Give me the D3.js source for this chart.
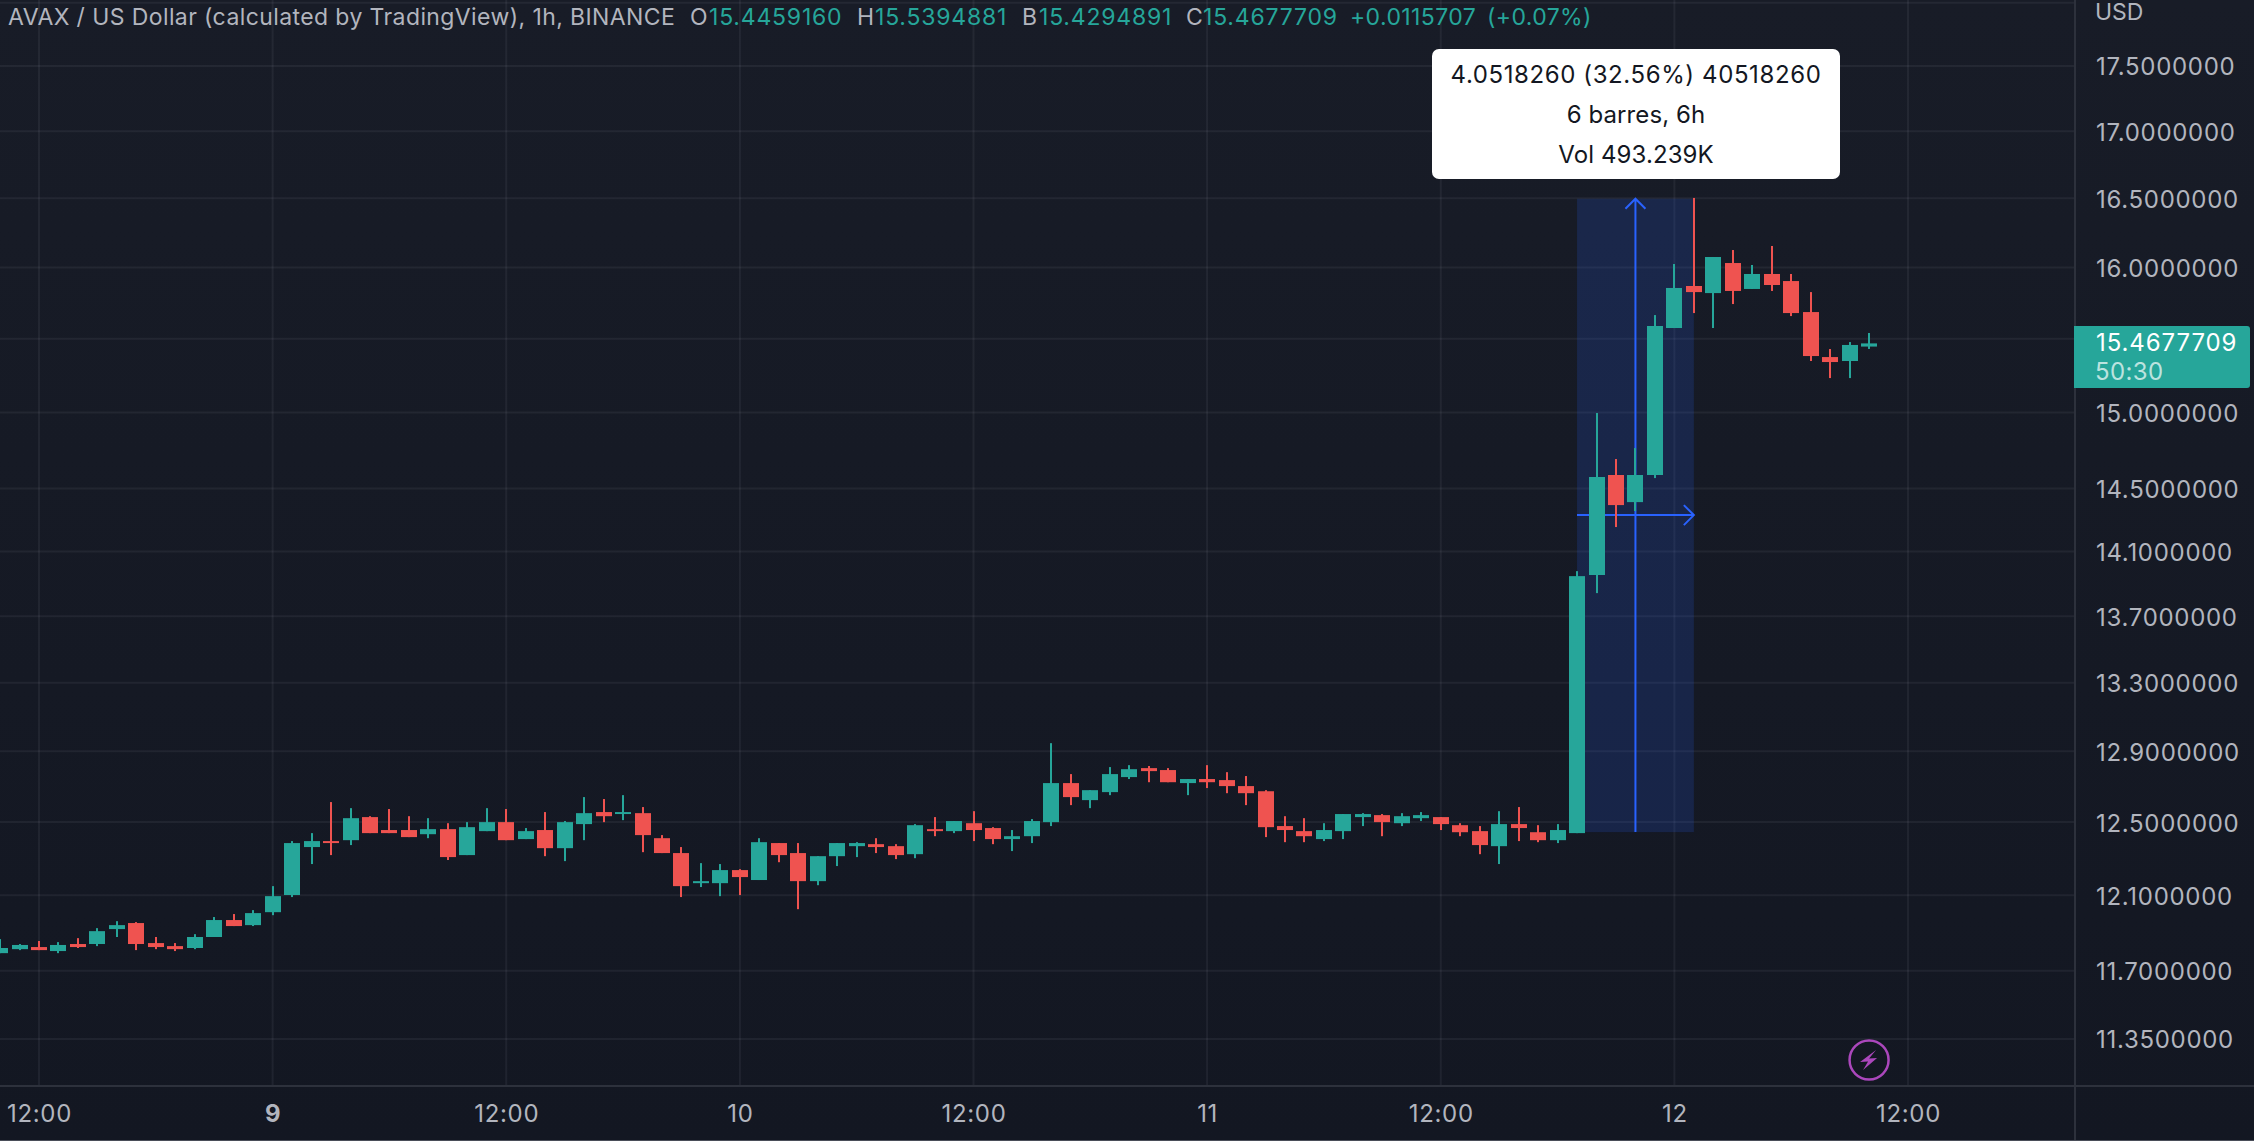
<!DOCTYPE html>
<html>
<head>
<meta charset="utf-8">
<script src="https://d3js.org/d3.v7.min.js"></script>
<style>
html, body { margin: 0; padding: 0; background: #131722; overflow: hidden; }
text { font-family: Inter, "Noto Sans", sans-serif; }
</style>
</head>
<body>
<div id="chart"></div>
<script>
var w = 2254,
    h = 1141;

// hours counted from 12:00 on the 8th, one candle per hour
var hours = d3.range(-2, 95);

var open = [11.792, 11.813, 11.824, 11.803, 11.840, 11.840, 11.919, 11.951, 11.845, 11.829, 11.819, 11.877,
    11.967, 11.940, 12.009, 12.101, 12.362, 12.395, 12.400, 12.528, 12.456, 12.456, 12.433, 12.461,
    12.318, 12.450, 12.500, 12.406, 12.456, 12.356, 12.489, 12.556, 12.545, 12.550, 12.411, 12.329,
    12.165, 12.165, 12.236, 12.182, 12.384, 12.329, 12.176, 12.312, 12.367, 12.378, 12.367, 12.323,
    12.461, 12.450, 12.494, 12.467, 12.406, 12.422, 12.500, 12.719, 12.623, 12.668, 12.753, 12.804,
    12.793, 12.719, 12.742, 12.736, 12.702, 12.673, 12.478, 12.450, 12.406, 12.450, 12.528, 12.539,
    12.494, 12.522, 12.528, 12.483, 12.450, 12.367, 12.489, 12.444, 12.400, 12.439, 13.953, 14.588,
    14.413, 14.588, 15.574, 15.868, 15.818, 16.031, 15.847, 15.953, 15.903, 15.685, 15.374, 15.347,
    15.4459];

var high = [11.866, 11.840, 11.856, 11.850, 11.871, 11.924, 11.961, 11.956, 11.877, 11.845, 11.892, 11.983,
    11.999, 12.020, 12.149, 12.395, 12.439, 12.612, 12.578, 12.533, 12.573, 12.533, 12.522, 12.494,
    12.500, 12.578, 12.573, 12.467, 12.556, 12.506, 12.640, 12.629, 12.651, 12.584, 12.428, 12.362,
    12.274, 12.269, 12.241, 12.411, 12.384, 12.384, 12.312, 12.384, 12.389, 12.411, 12.378, 12.489,
    12.528, 12.506, 12.561, 12.472, 12.456, 12.517, 12.947, 12.770, 12.679, 12.810, 12.821, 12.816,
    12.804, 12.742, 12.821, 12.781, 12.759, 12.679, 12.533, 12.522, 12.494, 12.545, 12.550, 12.545,
    12.550, 12.556, 12.528, 12.494, 12.478, 12.561, 12.584, 12.483, 12.489, 13.977, 14.996, 14.692,
    14.764, 15.664, 16.024, 16.502, 16.074, 16.124, 16.017, 16.153, 15.953, 15.825, 15.429, 15.477,
    15.5395];

var low = [11.792, 11.808, 11.808, 11.792, 11.819, 11.829, 11.877, 11.808, 11.813, 11.803, 11.813, 11.877,
    11.935, 11.935, 11.993, 12.090, 12.269, 12.318, 12.373, 12.439, 12.439, 12.417, 12.411, 12.291,
    12.318, 12.450, 12.400, 12.406, 12.312, 12.285, 12.400, 12.500, 12.511, 12.334, 12.329, 12.090,
    12.144, 12.095, 12.101, 12.182, 12.279, 12.025, 12.154, 12.258, 12.307, 12.329, 12.296, 12.301,
    12.422, 12.439, 12.395, 12.378, 12.340, 12.384, 12.478, 12.595, 12.578, 12.651, 12.742, 12.724,
    12.724, 12.651, 12.691, 12.662, 12.595, 12.417, 12.389, 12.389, 12.395, 12.406, 12.478, 12.422,
    12.478, 12.506, 12.456, 12.422, 12.323, 12.269, 12.395, 12.389, 12.384, 12.439, 13.841, 14.254,
    14.356, 14.568, 15.574, 15.678, 15.574, 15.741, 15.847, 15.833, 15.657, 15.347, 15.231, 15.231,
    15.4295];

var close = [11.819, 11.835, 11.808, 11.835, 11.824, 11.908, 11.940, 11.840, 11.824, 11.813, 11.877, 11.967,
    11.935, 12.004, 12.095, 12.384, 12.395, 12.384, 12.522, 12.439, 12.439, 12.417, 12.461, 12.307,
    12.472, 12.500, 12.400, 12.450, 12.356, 12.500, 12.550, 12.533, 12.556, 12.428, 12.329, 12.149,
    12.176, 12.236, 12.198, 12.389, 12.318, 12.176, 12.312, 12.384, 12.384, 12.362, 12.318, 12.483,
    12.450, 12.506, 12.456, 12.406, 12.422, 12.506, 12.719, 12.640, 12.679, 12.770, 12.798, 12.787,
    12.724, 12.742, 12.724, 12.702, 12.662, 12.472, 12.456, 12.422, 12.456, 12.545, 12.545, 12.500,
    12.533, 12.539, 12.489, 12.444, 12.373, 12.489, 12.467, 12.400, 12.456, 13.946, 14.575, 14.394,
    14.588, 15.588, 15.854, 15.825, 16.074, 15.833, 15.953, 15.875, 15.678, 15.381, 15.340, 15.457,
    15.4678];

var priceTicks = [17.5, 17, 16.5, 16, 15.5, 15, 14.5, 14.1, 13.7, 13.3, 12.9, 12.5, 12.1, 11.7, 11.35];
var timeTicks = [0, 12, 24, 36, 48, 60, 72, 84, 96];
var timeLabels = ["12:00", "9", "12:00", "10", "12:00", "11", "12:00", "12", "12:00"];
var gridPrices = [18].concat(priceTicks);

var lastPrice = 15.4677709;
var measureFrom = 12.4446, measureTo = 16.4964;
var measureStart = 79, measureEnd = 85, measureMid = 82, measureSide = 14.33;

var legendBits = [
    { t: "AVAX / US Dollar (calculated by TradingView), 1h, BINANCE", x: 8, c: "#b2b5be", ls: 0.4 },
    { t: "O", x: 690, c: "#b2b5be", ls: 0 }, { t: "15.4459160", x: 709, c: "#26a69a", ls: 0.8 },
    { t: "H", x: 857, c: "#b2b5be", ls: 0 }, { t: "15.5394881", x: 875, c: "#26a69a", ls: 0.8 },
    { t: "B", x: 1022, c: "#b2b5be", ls: 0 }, { t: "15.4294891", x: 1039, c: "#26a69a", ls: 0.8 },
    { t: "C", x: 1186, c: "#b2b5be", ls: 0 }, { t: "15.4677709", x: 1203, c: "#26a69a", ls: 0.8 },
    { t: "+0.0115707", x: 1350, c: "#26a69a", ls: 0.4 }, { t: "(+0.07%)", x: 1487, c: "#26a69a", ls: 0.4 }
];
var tipLines = ["4.0518260 (32.56%) 40518260", "6 barres, 6h", "Vol 493.239K"];

var paneRight = 2075, paneBottom = 1086;

var x = d3.scaleLinear().domain([0, 96]).range([39, 1908]);
var y = d3.scaleLog().domain([17.5, 11.35]).range([66, 1039]);

var svg = d3.select("#chart")
    .append("svg")
    .attr("width", w)
    .attr("height", h)
    .style("display", "block");

var grad = svg.append("defs").append("linearGradient")
    .attr("id", "bg")
    .attr("x1", 0).attr("y1", 0).attr("x2", 0).attr("y2", 1);
grad.append("stop").attr("offset", "0%").attr("stop-color", "#181c27");
grad.append("stop").attr("offset", "100%").attr("stop-color", "#131722");

svg.append("rect").attr("width", w).attr("height", h).attr("fill", "url(#bg)");

// grid
svg.selectAll(".hgrid")
    .data(gridPrices)
    .enter()
    .append("line")
    .attr("class", "hgrid")
    .attr("x1", 0)
    .attr("x2", paneRight)
    .attr("y1", function(d) {return y(d);})
    .attr("y2", function(d) {return y(d);})
    .attr("stroke", "rgba(240,243,250,0.06)")
    .attr("stroke-width", 2);

svg.selectAll(".vgrid")
    .data(timeTicks)
    .enter()
    .append("line")
    .attr("class", "vgrid")
    .attr("x1", function(d) {return x(d);})
    .attr("x2", function(d) {return x(d);})
    .attr("y1", 0)
    .attr("y2", paneBottom)
    .attr("stroke", "rgba(240,243,250,0.06)")
    .attr("stroke-width", 2);

// measure tool sits under the candles
var blue = "#2962ff";
svg.append("rect")
    .attr("x", x(measureStart))
    .attr("y", y(measureTo))
    .attr("width", x(measureEnd) - x(measureStart))
    .attr("height", y(measureFrom) - y(measureTo))
    .attr("fill", blue)
    .attr("fill-opacity", 0.17);

var mx = x(measureMid), my = y(measureSide);
svg.append("path")
    .attr("d", "M" + mx + "," + y(measureFrom) + "V" + y(measureTo) +
        "M" + (mx - 10) + "," + (y(measureTo) + 10) + "L" + mx + "," + y(measureTo) + "L" + (mx + 10) + "," + (y(measureTo) + 10) +
        "M" + x(measureStart) + "," + my + "H" + x(measureEnd) +
        "M" + (x(measureEnd) - 10) + "," + (my - 10) + "L" + x(measureEnd) + "," + my + "L" + (x(measureEnd) - 10) + "," + (my + 10))
    .attr("fill", "none")
    .attr("stroke", blue)
    .attr("stroke-width", 2);

// candles
var bodyW = 16;
function candleColor(i) {return close[i] >= open[i] ? "#26a69a" : "#ef5350";}

svg.selectAll(".wick")
    .data(hours)
    .enter()
    .append("rect")
    .attr("class", "wick")
    .attr("x", function(d) {return Math.round(x(d)) - 1;})
    .attr("y", function(d, i) {return y(high[i]);})
    .attr("width", 2)
    .attr("height", function(d, i) {return y(low[i]) - y(high[i]);})
    .attr("fill", function(d, i) {return candleColor(i);});

svg.selectAll(".body")
    .data(hours)
    .enter()
    .append("rect")
    .attr("class", "body")
    .attr("x", function(d) {return Math.round(x(d)) - bodyW / 2;})
    .attr("y", function(d, i) {return y(Math.max(open[i], close[i]));})
    .attr("width", bodyW)
    .attr("height", function(d, i) {return Math.max(1, Math.abs(y(open[i]) - y(close[i])));})
    .attr("fill", function(d, i) {return candleColor(i);});

// pane borders
svg.append("line").attr("x1", paneRight).attr("x2", paneRight).attr("y1", 0).attr("y2", h)
    .attr("stroke", "#2d313c").attr("stroke-width", 2);
svg.append("line").attr("x1", 0).attr("x2", w).attr("y1", paneBottom).attr("y2", paneBottom)
    .attr("stroke", "#2d313c").attr("stroke-width", 2);
svg.append("line").attr("x1", 0).attr("x2", w).attr("y1", h - 0.5).attr("y2", h - 0.5)
    .attr("stroke", "#4a4e59").attr("stroke-width", 1);

// price axis
var yAxis = d3.axisRight(y)
    .tickValues(priceTicks)
    .tickSize(0)
    .tickPadding(21)
    .tickFormat(function(d) {return d.toFixed(7);});

var gy = svg.append("g")
    .attr("transform", "translate(" + paneRight + ",0)")
    .call(yAxis);
gy.select(".domain").remove();
gy.selectAll("text")
    .attr("font-size", "24px")
    .attr("letter-spacing", "0.7px")
    .attr("dy", "0.37em")
    .attr("fill", "#b2b5be");

svg.append("text")
    .attr("x", 2095)
    .attr("y", 20)
    .attr("font-size", "23px")
    .attr("fill", "#b2b5be")
    .text("USD");

// time axis
var xAxis = d3.axisBottom(x)
    .tickValues(timeTicks)
    .tickSize(0)
    .tickPadding(19)
    .tickFormat(function(d, i) {return timeLabels[i];});

var gx = svg.append("g")
    .attr("transform", "translate(0," + paneBottom + ")")
    .call(xAxis);
gx.select(".domain").remove();
gx.selectAll("text")
    .attr("font-size", "24px")
    .attr("letter-spacing", "0.7px")
    .attr("fill", "#b2b5be")
    .style("font-weight", function(d, i) {return timeLabels[i] == "9" ? "bold" : "normal";});

// last price tag
svg.append("path")
    .attr("d", "M2074,326H2247a3,3 0 0 1 3,3V385a3,3 0 0 1 -3,3H2074Z")
    .attr("fill", "#26a69a");
svg.append("text")
    .attr("x", 2096)
    .attr("y", 351)
    .attr("font-size", "24px")
    .attr("letter-spacing", "0.9px")
    .attr("fill", "#ffffff")
    .text(lastPrice.toFixed(7));
svg.append("text")
    .attr("x", 2095)
    .attr("y", 380)
    .attr("font-size", "24px")
    .attr("letter-spacing", "0.4px")
    .attr("fill", "rgba(255,255,255,0.7)")
    .text("50:30");

// legend line
svg.selectAll(".legend")
    .data(legendBits)
    .enter()
    .append("text")
    .attr("class", "legend")
    .attr("x", function(d) {return d.x;})
    .attr("y", 25)
    .attr("font-size", "23px")
    .attr("letter-spacing", function(d) {return d.ls + "px";})
    .attr("fill", function(d) {return d.c;})
    .text(function(d) {return d.t;});

// measure tooltip
svg.append("rect")
    .attr("x", 1432)
    .attr("y", 49)
    .attr("width", 408)
    .attr("height", 130)
    .attr("rx", 7)
    .attr("fill", "#ffffff");

svg.selectAll(".tip")
    .data(tipLines)
    .enter()
    .append("text")
    .attr("class", "tip")
    .attr("x", 1636)
    .attr("y", function(d, i) {return 83 + i * 40;})
    .attr("text-anchor", "middle")
    .attr("font-size", "24px")
    .attr("letter-spacing", function(d, i) {return i == 0 ? "0.6px" : "0.1px";})
    .attr("fill", "#131722")
    .text(function(d) {return d;});

// lightning badge
var badge = svg.append("g").attr("transform", "translate(" + x(94) + ",1060)");
badge.append("circle")
    .attr("r", 19.5)
    .attr("fill", "none")
    .attr("stroke", "#ab47bc")
    .attr("stroke-width", 2.5);
badge.append("path")
    .attr("d", "M7,-10L-9,2L-1,1.5L-6,10L8,-2L0,-1.5Z")
    .attr("fill", "#ab47bc");
</script>
</body>
</html>
